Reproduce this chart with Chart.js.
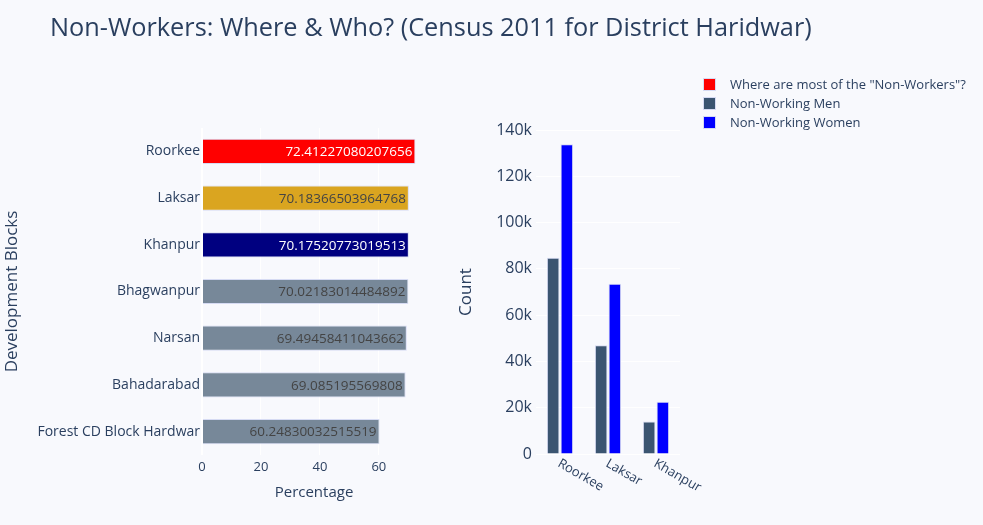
<!DOCTYPE html>
<html>
<head>
    <title>Non-Workers: Where & Who?</title>
    <style>
        body { margin: 0; background: #f8f9fd; font-family: "Open Sans", sans-serif; }
        .wrap { position: relative; width: 983px; height: 525px; overflow: hidden; }
        canvas { position: absolute; left: 0; top: 0; }
        #title { position: absolute; left: 50px; top: 9px; font-size: 25.3px; color: #2a3f5f; white-space: nowrap; }
        #legend { position: absolute; left: 703px; top: 75px; font-size: 13px; color: #2a3f5f; }
        .item { height: 19px; line-height: 19px; white-space: nowrap; }
        .sw { display: inline-block; width: 11px; height: 11px; border: 1px solid #d6dbf3; vertical-align: -2px; margin-right: 14px; }
    </style>
    <script src="https://cdn.jsdelivr.net/npm/chart.js"></script>
</head>
<body>
<div class="wrap">
    <canvas id="left" width="983" height="525"></canvas>
    <canvas id="right" width="983" height="525"></canvas>
    <div id="title">Non-Workers: Where &amp; Who? (Census 2011 for District Haridwar)</div>
    <div id="legend"></div>
</div>

<script>
    // data
    const blocks = ['Roorkee', 'Laksar', 'Khanpur', 'Bhagwanpur', 'Narsan', 'Bahadarabad', 'Forest CD Block Hardwar'];
    const nonWorkerPct = [72.41227080207656, 70.18366503964768, 70.17520773019513, 70.02183014484892,
                          69.49458411043662, 69.085195569808, 60.24830032515519];
    const blockColors = ['#ff0000', '#daa520', '#000080', '#778899', '#778899', '#778899', '#778899'];
    const labelColors = ['#ffffff', '#444444', '#ffffff', '#444444', '#444444', '#444444', '#444444'];

    const topBlocks = ['Roorkee', 'Laksar', 'Khanpur'];
    const menCount = [84800, 47000, 14000];
    const womenCount = [133800, 73600, 22600];

    const legendItems = [
        ['Where are most of the "Non-Workers"?', '#ff0000'],
        ['Non-Working Men', '#3b5571'],
        ['Non-Working Women', '#0000ff']
    ];

    const ink = '#2a3f5f';
    Chart.defaults.font.family = '"Open Sans", sans-serif';
    Chart.defaults.color = ink;

    // legend
    const legend = document.getElementById('legend');
    legendItems.forEach(([text, color]) => {
        const row = document.createElement('div');
        row.className = 'item';
        row.innerHTML = `<span class="sw" style="background:${color}"></span>${text}`;
        legend.appendChild(row);
    });

    // value text inside the end of each horizontal bar
    const barText = {
        id: 'barText',
        afterDatasetsDraw(chart) {
            const ctx = chart.ctx;
            ctx.save();
            ctx.font = '13.5px "Open Sans", sans-serif';
            ctx.textAlign = 'right';
            ctx.textBaseline = 'middle';
            chart.getDatasetMeta(0).data.forEach((bar, i) => {
                ctx.fillStyle = labelColors[i];
                ctx.fillText(String(nonWorkerPct[i]), bar.x - 3, bar.y + 1);
            });
            ctx.restore();
        }
    };

    new Chart(document.getElementById('left'), {
        type: 'bar',
        data: {
            labels: blocks,
            datasets: [{
                data: nonWorkerPct,
                backgroundColor: blockColors,
                borderColor: '#d6dbf3',
                borderWidth: 1,
                barPercentage: 0.54,
                categoryPercentage: 1
            }]
        },
        options: {
            indexAxis: 'y',
            responsive: false,
            animation: false,
            layout: { padding: { left: 0, top: 128, right: 557, bottom: 0 } },
            plugins: { legend: { display: false }, tooltip: { enabled: false } },
            scales: {
                x: {
                    min: 0, max: 76,
                    grid: { color: '#ffffff', lineWidth: c => c.tick && c.tick.value === 0 ? 2 : 1, drawTicks: false, tickLength: 0 },
                    border: { display: false },
                    ticks: { stepSize: 20, includeBounds: false, padding: 4, font: { size: 13 }, color: ink },
                    title: { display: true, text: 'Percentage', font: { size: 15 }, color: ink, padding: { top: 4, bottom: 23 } },
                    afterFit: s => { s.height = 70; }
                },
                y: {
                    grid: { display: false, drawTicks: false, tickLength: 0 },
                    border: { display: false },
                    ticks: { padding: 2, font: { size: 14 }, color: ink, autoSkip: false },
                    title: { display: true, text: 'Development Blocks', font: { size: 17 }, color: ink, padding: { top: 2, bottom: 0 } },
                    afterFit: s => { s.width = 202; }
                }
            }
        },
        plugins: [barText]
    });

    // slanted category labels under the grouped bars
    const slantTicks = {
        id: 'slantTicks',
        afterDraw(chart) {
            const ctx = chart.ctx;
            const sx = chart.scales.x;
            ctx.save();
            ctx.font = '13px "Open Sans", sans-serif';
            ctx.fillStyle = ink;
            ctx.textAlign = 'left';
            ctx.textBaseline = 'top';
            topBlocks.forEach((name, i) => {
                ctx.save();
                ctx.translate(sx.getPixelForValue(i) + 2, sx.top + 3);
                ctx.rotate(30 * Math.PI / 180);
                ctx.fillText(name, 0, 0);
                ctx.restore();
            });
            ctx.restore();
        }
    };

    new Chart(document.getElementById('right'), {
        type: 'bar',
        data: {
            labels: topBlocks,
            datasets: [
                { label: 'Non-Working Men', data: menCount, backgroundColor: '#3b5571', borderColor: '#d6dbf3', borderWidth: 1,
                  categoryPercentage: 0.57, barPercentage: 0.92 },
                { label: 'Non-Working Women', data: womenCount, backgroundColor: '#0000ff', borderColor: '#d6dbf3', borderWidth: 1,
                  categoryPercentage: 0.57, barPercentage: 0.92 }
            ]
        },
        options: {
            responsive: false,
            animation: false,
            layout: { padding: { left: 455, top: 130, right: 303, bottom: 0 } },
            plugins: { legend: { display: false }, tooltip: { enabled: false } },
            scales: {
                x: {
                    grid: { display: false },
                    border: { display: false },
                    ticks: { display: false },
                    afterFit: s => { s.height = 71; }
                },
                y: {
                    min: 0, max: 140000,
                    grid: { color: '#ffffff', lineWidth: 1, drawTicks: false, tickLength: 0 },
                    border: { display: false },
                    ticks: {
                        stepSize: 20000, padding: 4, font: { size: 16 }, color: ink,
                        callback: v => v === 0 ? '0' : (v / 1000) + 'k'
                    },
                    title: { display: true, text: 'Count', font: { size: 17 }, color: ink, padding: { top: 1, bottom: 0 } },
                    afterFit: s => { s.width = 81; }
                }
            }
        },
        plugins: [slantTicks]
    });
</script>
</body>
</html>
